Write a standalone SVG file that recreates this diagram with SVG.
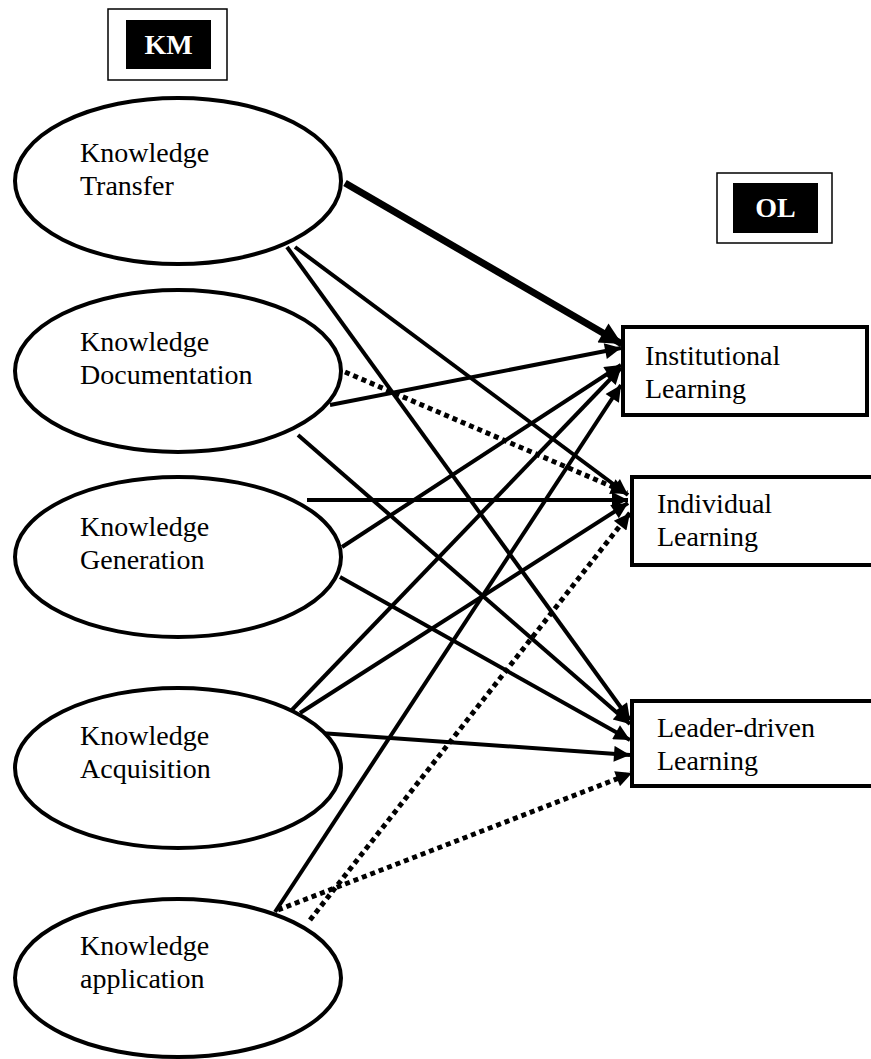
<svg xmlns="http://www.w3.org/2000/svg" width="871" height="1059" viewBox="0 0 871 1059">
  <style>
    .node ellipse { fill: #fff; stroke: #000; stroke-width: 4; }
    .node rect.box { fill: #fff; stroke: #000; stroke-width: 4; }
    .lbl { font-family: "Liberation Serif", "Times New Roman", serif; font-size: 28px; fill: #000; }
    .tag-outer { fill: #fff; stroke: #000; stroke-width: 1.5; }
    .tag-inner { fill: #000; }
    .tag-text { font-family: "Liberation Serif", "Times New Roman", serif; font-size: 28px; font-weight: bold; fill: #fff; text-anchor: middle; }
    .conn line { stroke: #000; stroke-width: 4; fill: none; }
    .conn line.thick { stroke-width: 7; }
    .conn line.dot { stroke-width: 5; stroke-dasharray: 5 4; }
  </style>
  <defs>
    <marker id="arrow" viewBox="0 0 10 10" refX="10" refY="5" markerWidth="20" markerHeight="16" markerUnits="userSpaceOnUse" orient="auto">
      <path d="M0,0 L10,5 L0,10 z" fill="#000"/>
    </marker>
    <marker id="arrow-big" viewBox="0 0 10 10" refX="10" refY="5" markerWidth="26" markerHeight="22" markerUnits="userSpaceOnUse" orient="auto">
      <path d="M0,0 L10,5 L0,10 z" fill="#000"/>
    </marker>
  </defs>

  <!-- group headers -->
  <g id="km">
    <rect class="tag-outer" x="108" y="9" width="119" height="71"/>
    <rect class="tag-inner" x="126" y="20" width="85" height="49"/>
    <text class="tag-text" x="168.5" y="54">KM</text>
  </g>
  <g id="ol">
    <rect class="tag-outer" x="717" y="173" width="115" height="70"/>
    <rect class="tag-inner" x="733" y="183" width="85" height="50"/>
    <text class="tag-text" x="775.5" y="217">OL</text>
  </g>

  <!-- connectors -->
  <g id="connectors" class="conn">
    <!-- Knowledge Transfer -->
    <line class="thick" x1="345" y1="183" x2="622" y2="344" marker-end="url(#arrow-big)"/>
    <line x1="295" y1="247" x2="628" y2="495" marker-end="url(#arrow)"/>
    <line x1="287" y1="247" x2="630" y2="720" marker-end="url(#arrow)"/>
    <!-- Knowledge Documentation -->
    <line x1="330" y1="405" x2="621" y2="348" marker-end="url(#arrow)"/>
    <line class="dot" x1="345" y1="372" x2="627" y2="493" marker-end="url(#arrow)"/>
    <line x1="298" y1="435" x2="630" y2="724" marker-end="url(#arrow)"/>
    <!-- Knowledge Generation -->
    <line x1="307" y1="500" x2="628" y2="500" marker-end="url(#arrow)"/>
    <line x1="342" y1="547" x2="621" y2="365" marker-end="url(#arrow)"/>
    <line x1="340" y1="577" x2="630" y2="740" marker-end="url(#arrow)"/>
    <!-- Knowledge Acquisition -->
    <line x1="288" y1="714" x2="621" y2="368" marker-end="url(#arrow)"/>
    <line x1="300" y1="713" x2="628" y2="503" marker-end="url(#arrow)"/>
    <line x1="320" y1="733" x2="630" y2="755" marker-end="url(#arrow)"/>
    <!-- Knowledge application -->
    <line x1="275" y1="912" x2="621" y2="385" marker-end="url(#arrow)"/>
    <line class="dot" x1="310" y1="920" x2="630" y2="513" marker-end="url(#arrow)"/>
    <line class="dot" x1="278" y1="910" x2="632" y2="773" marker-end="url(#arrow)"/>
  </g>

  <!-- KM nodes -->
  <g id="knowledge-transfer" class="node">
    <ellipse cx="178" cy="181" rx="163" ry="83"/>
    <text class="lbl" x="80" y="162">Knowledge</text>
    <text class="lbl" x="80" y="195">Transfer</text>
  </g>
  <g id="knowledge-documentation" class="node">
    <ellipse cx="178" cy="371" rx="163" ry="81"/>
    <text class="lbl" x="80" y="351">Knowledge</text>
    <text class="lbl" x="80" y="384">Documentation</text>
  </g>
  <g id="knowledge-generation" class="node">
    <ellipse cx="178" cy="557" rx="163" ry="80"/>
    <text class="lbl" x="80" y="536">Knowledge</text>
    <text class="lbl" x="80" y="569">Generation</text>
  </g>
  <g id="knowledge-acquisition" class="node">
    <ellipse cx="178" cy="768" rx="163" ry="80"/>
    <text class="lbl" x="80" y="745">Knowledge</text>
    <text class="lbl" x="80" y="778">Acquisition</text>
  </g>
  <g id="knowledge-application" class="node">
    <ellipse cx="178" cy="978" rx="163" ry="79"/>
    <text class="lbl" x="80" y="955">Knowledge</text>
    <text class="lbl" x="80" y="988">application</text>
  </g>

  <!-- OL nodes -->
  <g id="institutional-learning" class="node">
    <rect class="box" x="623" y="327" width="244" height="88"/>
    <text class="lbl" x="645" y="365">Institutional</text>
    <text class="lbl" x="645" y="398">Learning</text>
  </g>
  <g id="individual-learning" class="node">
    <rect class="box" x="632" y="477" width="250" height="88"/>
    <text class="lbl" x="657" y="513">Individual</text>
    <text class="lbl" x="657" y="546">Learning</text>
  </g>
  <g id="leader-driven-learning" class="node">
    <rect class="box" x="632" y="701" width="250" height="85"/>
    <text class="lbl" x="657" y="737">Leader-driven</text>
    <text class="lbl" x="657" y="770">Learning</text>
  </g>
</svg>
